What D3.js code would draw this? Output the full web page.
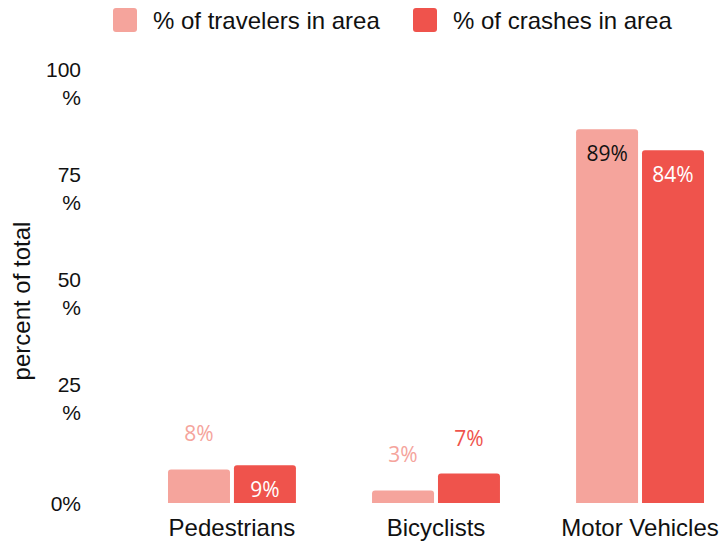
<!DOCTYPE html>
<html>
<head>
<meta charset="utf-8">
<script src="https://cdn.jsdelivr.net/npm/d3@7"></script>
<style>
  body { margin: 0; background: #fff; }
  text { font-family: "Liberation Sans", Arial, sans-serif; fill: #111; }
</style>
</head>
<body>
<div id="chart"></div>
<script>
// data
const categories = ["Pedestrians", "Bicyclists", "Motor Vehicles"];
const seriesNames = ["% of travelers in area", "% of crashes in area"];
const travelers = [8, 3, 89];
const crashes = [9, 7, 84];
const yTicks = [0, 25, 50, 75, 100];
const colors = ["#f5a49c", "#ef534c"];

const width = 726, height = 550;
const svg = d3.select("#chart").append("svg")
    .attr("width", width)
    .attr("height", height);

// scales
const x = d3.scaleBand()
    .domain(categories)
    .range([168, 704])
    .paddingInner(0.373)
    .paddingOuter(0);

const xSub = d3.scaleBand()
    .domain(seriesNames)
    .range([0, x.bandwidth()])
    .paddingInner(0.06);

const y = d3.scaleLinear()
    .domain([0, 100])
    .range([503, 83]);

// y axis labels (no line), wrapped like the original
const yAxis = svg.append("g");
yTicks.forEach(function (t) {
    const lbl = yAxis.append("text")
        .attr("text-anchor", "end")
        .style("font-size", "21px");
    if (t === 0) {
        lbl.append("tspan").attr("x", 81).attr("y", y(t) + 8).text(t + "%");
    } else {
        lbl.append("tspan").attr("x", 81).attr("y", y(t) - 6).text(t);
        lbl.append("tspan").attr("x", 81).attr("y", y(t) + 22).text("%");
    }
});

svg.append("text")
    .attr("transform", "translate(30," + 301 + ")rotate(-90)")
    .attr("text-anchor", "middle")
    .style("font-size", "24px")
    .text("percent of total");

// x axis labels
svg.append("g").selectAll("text")
    .data(categories)
    .enter()
    .append("text")
    .attr("x", function (d) { return x(d) + x.bandwidth() / 2; })
    .attr("y", 536)
    .attr("text-anchor", "middle")
    .style("font-size", "24px")
    .text(function (d) { return d; });

// bars
const rows = [];
categories.forEach(function (c, i) {
    rows.push({ cat: c, series: seriesNames[0], value: travelers[i], s: 0 });
    rows.push({ cat: c, series: seriesNames[1], value: crashes[i], s: 1 });
});

function topRounded(x0, y0, w, h, r) {
    r = Math.min(r, h);
    return "M" + x0 + "," + (y0 + h) +
        "V" + (y0 + r) +
        "Q" + x0 + "," + y0 + " " + (x0 + r) + "," + y0 +
        "H" + (x0 + w - r) +
        "Q" + (x0 + w) + "," + y0 + " " + (x0 + w) + "," + (y0 + r) +
        "V" + (y0 + h) + "Z";
}

svg.append("g").selectAll("path")
    .data(rows)
    .enter()
    .append("path")
    .attr("d", function (d) {
        const bx = x(d.cat) + xSub(d.series);
        return topRounded(bx, y(d.value), xSub.bandwidth(), y(0) - y(d.value), 3);
    })
    .attr("fill", function (d) { return colors[d.s]; });

// value labels: inside when the bar is tall enough, otherwise above it
svg.append("g").selectAll("text")
    .data(rows)
    .enter()
    .append("text")
    .attr("x", function (d) { return x(d.cat) + xSub(d.series) + xSub.bandwidth() / 2; })
    .attr("y", function (d) {
        const inside = y(0) - y(d.value) > 35;
        return inside ? y(d.value) + 32 : y(d.value) - 28;
    })
    .attr("text-anchor", "middle")
    .style("font-family", "'Open Sans', sans-serif")
    .style("font-size", "21px")
    .style("fill", function (d) {
        const inside = y(0) - y(d.value) > 35;
        if (inside) return d.s === 0 ? "#111" : "#fff";
        return colors[d.s];
    })
    .text(function (d) { return d.value + "%"; });

// legend
const legendX = [113, 413];
const legend = svg.append("g").selectAll("g")
    .data(seriesNames)
    .enter()
    .append("g")
    .attr("transform", function (d, i) { return "translate(" + legendX[i] + ",8)"; });
legend.append("rect")
    .attr("width", 24).attr("height", 24).attr("rx", 3)
    .attr("fill", function (d, i) { return colors[i]; });
legend.append("text")
    .attr("x", 40).attr("y", 21)
    .style("font-size", "24px")
    .text(function (d) { return d; });
</script>
</body>
</html>
